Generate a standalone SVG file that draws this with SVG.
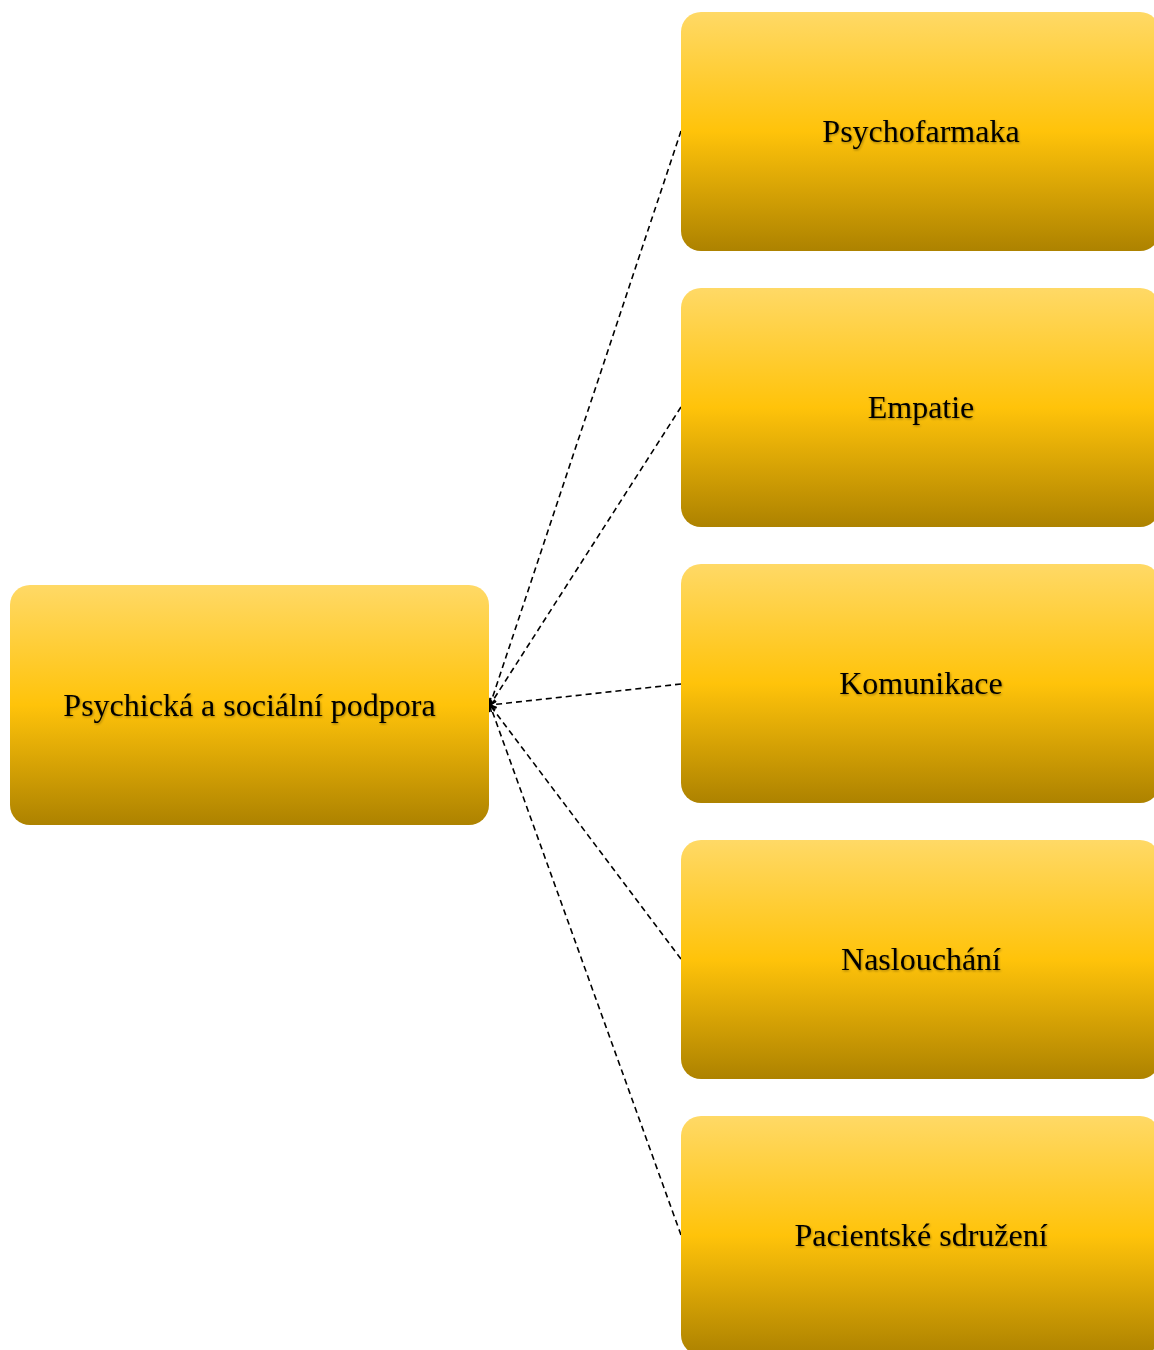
<svg xmlns="http://www.w3.org/2000/svg" width="1154" height="1350" viewBox="0 0 1154 1350">
  <style>
    .box { fill: url(#gold); }
    .label { font-family: "Liberation Serif", "Times New Roman", serif; font-size: 32px; fill: #000; text-anchor: middle; dominant-baseline: central; filter: url(#soft); }
    .link { fill: none; stroke: #000; stroke-width: 1.6; stroke-dasharray: 6 4; marker-end: url(#tip); }
  </style>
  <defs>
    <linearGradient id="gold" x1="0" y1="0" x2="0" y2="1">
      <stop offset="0" stop-color="#ffd966"/>
      <stop offset="0.5" stop-color="#ffc30a"/>
      <stop offset="1" stop-color="#ad8200"/>
    </linearGradient>
    <filter id="soft" x="-10%" y="-30%" width="120%" height="160%">
      <feDropShadow dx="0.8" dy="1.2" stdDeviation="0.9" flood-color="#000" flood-opacity="0.35"/>
    </filter>
    <marker id="tip" viewBox="0 0 10 10" refX="9" refY="5" markerWidth="8" markerHeight="8" orient="auto" markerUnits="userSpaceOnUse">
      <path d="M1 1 L9 5 L1 9" fill="none" stroke="#000" stroke-width="2"/>
    </marker>
  </defs>

  <!-- connectors: each child box links back to the central topic -->
  <g id="connectors">
    <line class="link" x1="681" y1="131" x2="490" y2="705"/>
    <line class="link" x1="681" y1="407" x2="490" y2="705"/>
    <line class="link" x1="681" y1="684" x2="490" y2="705"/>
    <line class="link" x1="681" y1="959" x2="490" y2="705"/>
    <line class="link" x1="681" y1="1235" x2="490" y2="705"/>
  </g>

  <g id="node-root">
    <rect class="box" x="10" y="585" width="479" height="240" rx="20"/>
    <text class="label" x="249.5" y="705">Psychická a sociální podpora</text>
  </g>
  <g id="node-psychofarmaka">
    <rect class="box" x="681" y="12" width="479" height="239" rx="20"/>
    <text class="label" x="921" y="131">Psychofarmaka</text>
  </g>
  <g id="node-empatie">
    <rect class="box" x="681" y="288" width="479" height="239" rx="20"/>
    <text class="label" x="921" y="407">Empatie</text>
  </g>
  <g id="node-komunikace">
    <rect class="box" x="681" y="564" width="479" height="239" rx="20"/>
    <text class="label" x="921" y="683">Komunikace</text>
  </g>
  <g id="node-naslouchani">
    <rect class="box" x="681" y="840" width="479" height="239" rx="20"/>
    <text class="label" x="921" y="959">Naslouchání</text>
  </g>
  <g id="node-pacientske-sdruzeni">
    <rect class="box" x="681" y="1116" width="479" height="239" rx="20"/>
    <text class="label" x="921" y="1235">Pacientské sdružení</text>
  </g>
</svg>
